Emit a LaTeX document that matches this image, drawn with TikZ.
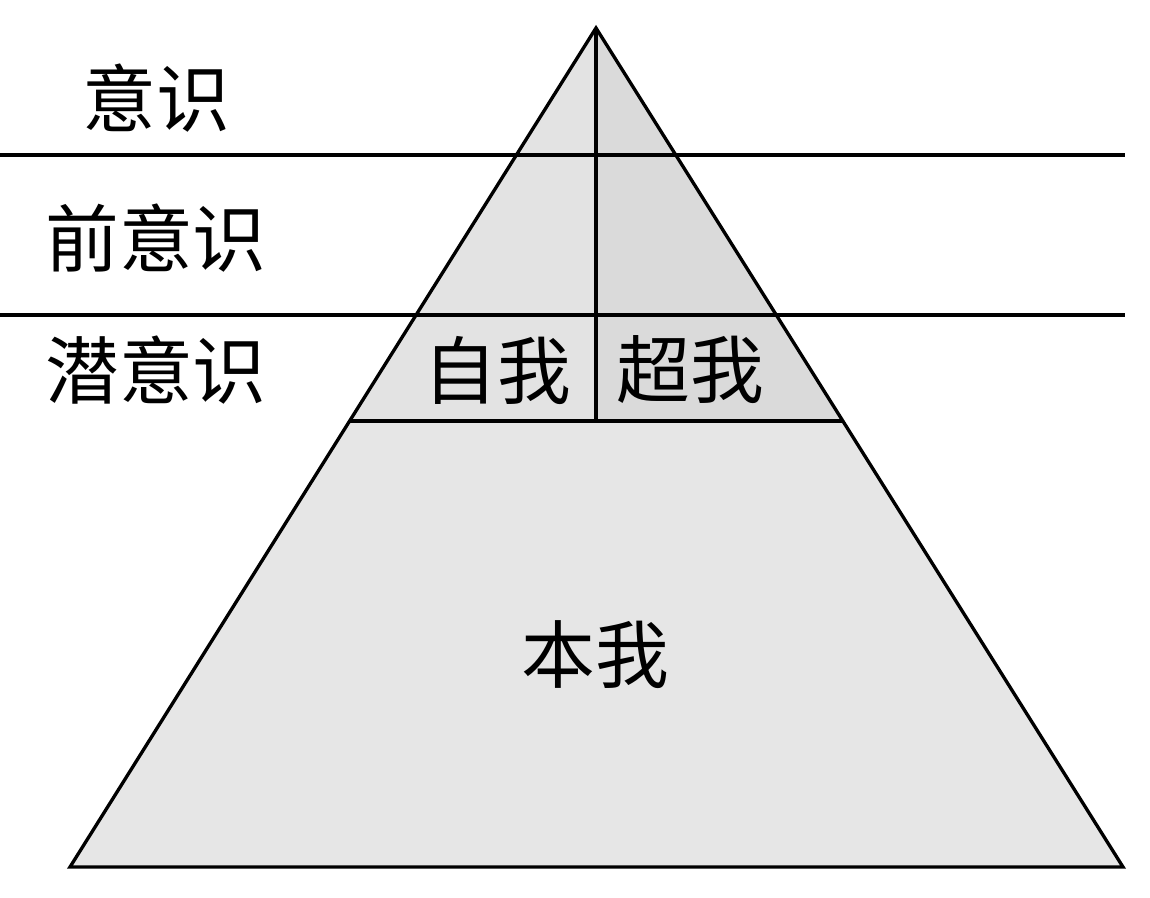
\documentclass[tikz,border=0pt]{standalone}
\usepackage{fontspec}
\newfontfamily\cjk{Noto Sans CJK SC}
\definecolor{fillL}{HTML}{E3E3E3}
\definecolor{fillR}{HTML}{DADADA}
\definecolor{fillB}{HTML}{E6E6E6}
\tikzset{
  edge/.style={line width=1.9pt, black},
  lbl/.style={font=\cjk\fontsize{42}{50}\selectfont, inner sep=0pt}
}
\begin{document}
\begin{tikzpicture}[x=0.02cm,y=-0.02cm]
\useasboundingbox (0,0) rectangle (1150,898);
\coordinate (A) at (596,28);
\coordinate (BL) at (70,867);
\coordinate (BR) at (1123,867);
\coordinate (ML) at (349.6,421);
\coordinate (MR) at (842.9,421);
\coordinate (MC) at (596,421);
\coordinate (H1a) at (0,155);
\coordinate (H1b) at (1125,155);
\coordinate (H2a) at (0,315);
\coordinate (H2b) at (1125,315);
\fill[fillL] (A) -- (ML) -- (MC) -- cycle;
\fill[fillR] (A) -- (MC) -- (MR) -- cycle;
\fill[fillB] (ML) -- (MR) -- (BR) -- (BL) -- cycle;
\draw[edge, line join=miter] (A) -- (BL) -- (BR) -- cycle;
\draw[edge] (ML) -- (MR);
\draw[edge] (A) -- (MC);
\draw[edge] (H1a) -- (H1b);
\draw[edge] (H2a) -- (H2b);
\node[lbl] (yishi) at (156,98) {意识};
\node[lbl] (qian) at (156,238) {前意识};
\node[lbl] (qianyi) at (156,370) {潜意识};
\node[lbl] (ziwo) at (497,370) {自我};
\node[lbl] (chaowo) at (690,370) {超我};
\node[lbl] (benwo) at (595,655) {本我};
\end{tikzpicture}
\end{document}
